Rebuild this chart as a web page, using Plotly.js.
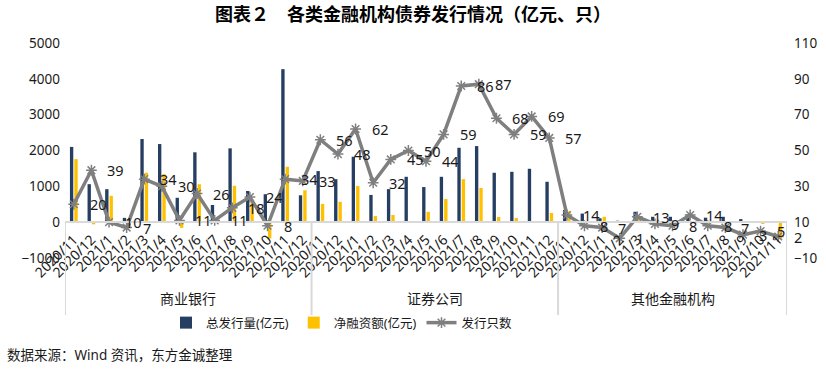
<!DOCTYPE html>
<html>
<head>
<meta charset="utf-8">
<script src="https://cdn.plot.ly/plotly-3.0.1.min.js"></script>
<style>
  html, body { margin: 0; padding: 0; background: #fff; }
  #chart { width: 826px; height: 372px; }
</style>
</head>
<body>
<div id="chart"></div>
<script>
// ---------- data ----------
const groupNames = ["商业银行", "证券公司", "其他金融机构"];

const bankMonths = ["2020/11","2020/12","2021/1","2021/2","2021/3","2021/4","2021/5","2021/6","2021/7","2021/8","2021/9","2021/10","2021/11","2021/12"];
const secMonths  = ["2020/11","2020/12","2021/1","2021/2","2021/3","2021/4","2021/5","2021/6","2021/7","2021/8","2021/9","2021/10","2021/11","2021/12"];
const otherMonths = ["2020/11","2020/12","2021/1","2021/2","2021/3","2021/4","2021/5","2021/6","2021/7","2021/8","2021/9","2021/10","2021/11"];

// 总发行量(亿元)
const bankIssue  = [2100, 1060, 920, 120, 2320, 2180, 680, 1950, 480, 2060, 870, 780, 4270, 750];
const secIssue   = [1425, 1200, 1825, 760, 922, 1266, 980, 1266, 2076, 2123, 1378, 1406, 1490, 1127];
const otherIssue = [340, 240, 110, 40, 290, 150, 150, 215, 125, 150, 85, 30, 30];

// 净融资额(亿元)
const bankNet  = [1760, -60, 735, -110, 1380, 1340, -160, 1060, 40, 1015, 550, -455, 1545, 890];
const secNet   = [510, 568, 1010, 170, 200, 10, 289, 645, 1201, 955, 145, 115, 0, 255];
const otherNet = [300, 20, 150, 30, 100, 20, 20, 30, 30, 20, 10, -50, -480];

// 发行只数
const bankCount  = [20, 39, 10, 7, 34, 30, 11, 26, 11, 18, 24, 8, 34, 33];
const secCount   = [56, 48, 62, 32, 45, 50, 44, 59, 86, 87, 68, 59, 69, 57];
const otherCount = [14, 8, 7, 1, 13, 9, 8, 14, 8, 7, 3, 5, 2];

const leftTicks  = [-1000, 0, 1000, 2000, 3000, 4000, 5000];
const rightTicks = [-10, 10, 30, 50, 70, 90, 110];

// ---------- build ----------
const groupMonths = [bankMonths, secMonths, otherMonths];
const months = [].concat(bankMonths, secMonths, otherMonths);
const issue = [].concat(bankIssue, secIssue, otherIssue);
const net = [].concat(bankNet, secNet, otherNet);
const count = [].concat(bankCount, secCount, otherCount);
const idx = months.map((_, i) => i);

const NAVY = "#253e62";
const GOLD = "#ffc000";
const GREY = "#7f7f7f";
const AXIS = "#d9d9d9";
const TXT = "#1a1a1a";
const FONT = "Noto Sans, Noto Sans CJK SC, sans-serif";

const traces = [
  { type: "bar", name: "总发行量(亿元)", x: idx, y: issue, marker: { color: NAVY }, yaxis: "y", hoverinfo: "skip" },
  { type: "bar", name: "净融资额(亿元)", x: idx, y: net, marker: { color: GOLD }, yaxis: "y", hoverinfo: "skip" },
  { type: "scatter", mode: "lines+markers", name: "发行只数", x: idx, y: count, yaxis: "y2",
    line: { color: GREY, width: 3.5 },
    marker: { symbol: "asterisk-open", size: 9, color: GREY, line: { color: GREY, width: 1.5 } },
    hoverinfo: "skip" }
];

// plot area geometry (px)
const PL = 65, PR = 787, PT = 43, PB = 258;
const plotH = PB - PT;
const zeroPaper = (PB - 222) / plotH;      // left axis 0 line
const divBottom = (PB - 315) / plotH;

const annotations = [];
// data labels of the line
count.forEach((v, i) => {
  annotations.push({ x: i, y: v, xref: "x", yref: "y2", text: String(v), showarrow: false,
    xanchor: "left", yanchor: "middle", xshift: 14, font: { family: FONT, size: 14.5, color: TXT } });
});
// group labels and dividers
const shapes = [];
let start = 0;
const bounds = [-0.5];
groupMonths.forEach((g, gi) => {
  const end = start + g.length;
  annotations.push({ x: (start + end - 1) / 2, y: (PB - 298) / plotH, xref: "x", yref: "paper",
    text: groupNames[gi], showarrow: false, xanchor: "center", yanchor: "middle",
    font: { family: FONT, size: 14, color: TXT } });
  bounds.push(end - 0.5);
  start = end;
});
bounds.forEach(b => {
  shapes.push({ type: "line", xref: "x", yref: "paper", x0: b, x1: b, y0: zeroPaper, y1: divBottom,
    line: { color: AXIS, width: 2 } });
});
// source note (position in paper units derived from px)
annotations.push({ x: (5 - PL) / (PR - PL), y: (PB - 355) / plotH, xref: "paper", yref: "paper",
  text: "数据来源：Wind 资讯，东方金诚整理",
  showarrow: false, xanchor: "left", yanchor: "middle", font: { family: FONT, size: 13.5, color: TXT } });

const layout = {
  width: 826, height: 372,
  margin: { l: PL, r: 826 - PR, t: PT, b: 372 - PB, pad: 0 },
  paper_bgcolor: "#ffffff", plot_bgcolor: "rgba(0,0,0,0)",
  showlegend: true,
  title: { text: "<b>图表２　各类金融机构债券发行情况（亿元、只）</b>", x: 0.5, xref: "container", xanchor: "center",
    y: 1 - 15 / 372, yref: "container", yanchor: "middle",
    font: { family: "Noto Sans CJK SC, sans-serif", size: 18, color: "#000" } },
  barmode: "group", bargap: 0.5, bargroupgap: 0.24,
  xaxis: {
    range: [-0.5, months.length - 0.5], anchor: "free", position: zeroPaper,
    tickmode: "array", tickvals: idx, ticktext: months, tickangle: -45,
    ticks: "", showgrid: false, zeroline: false, ticklabelstandoff: 3,
    showline: true, linecolor: AXIS, linewidth: 2,
    tickfont: { family: FONT, size: 14, color: TXT }, fixedrange: true
  },
  yaxis: {
    range: [-1000, 5000], tickmode: "array", tickvals: leftTicks, ticks: "",
    showgrid: false, zeroline: false, showline: false, ticklabelstandoff: 4,
    tickfont: { family: FONT, size: 13.5, color: TXT }, fixedrange: true
  },
  yaxis2: {
    range: [-10, 110], overlaying: "y", side: "right", tickmode: "array", tickvals: rightTicks, ticks: "",
    showgrid: false, zeroline: false, showline: false, ticklabelstandoff: 6,
    tickfont: { family: FONT, size: 13.5, color: TXT }, fixedrange: true
  },
  legend: {
    orientation: "h", x: (166 - PL) / (PR - PL), xanchor: "left", y: (PB - 323) / plotH, yanchor: "middle",
    font: { family: FONT, size: 12.5, color: TXT }, bgcolor: "rgba(0,0,0,0)", itemwidth: 30,
    traceorder: "normal"
  },
  annotations: annotations,
  shapes: shapes
};

Plotly.newPlot("chart", traces, layout, { staticPlot: true, displayModeBar: false });
</script>
</body>
</html>
